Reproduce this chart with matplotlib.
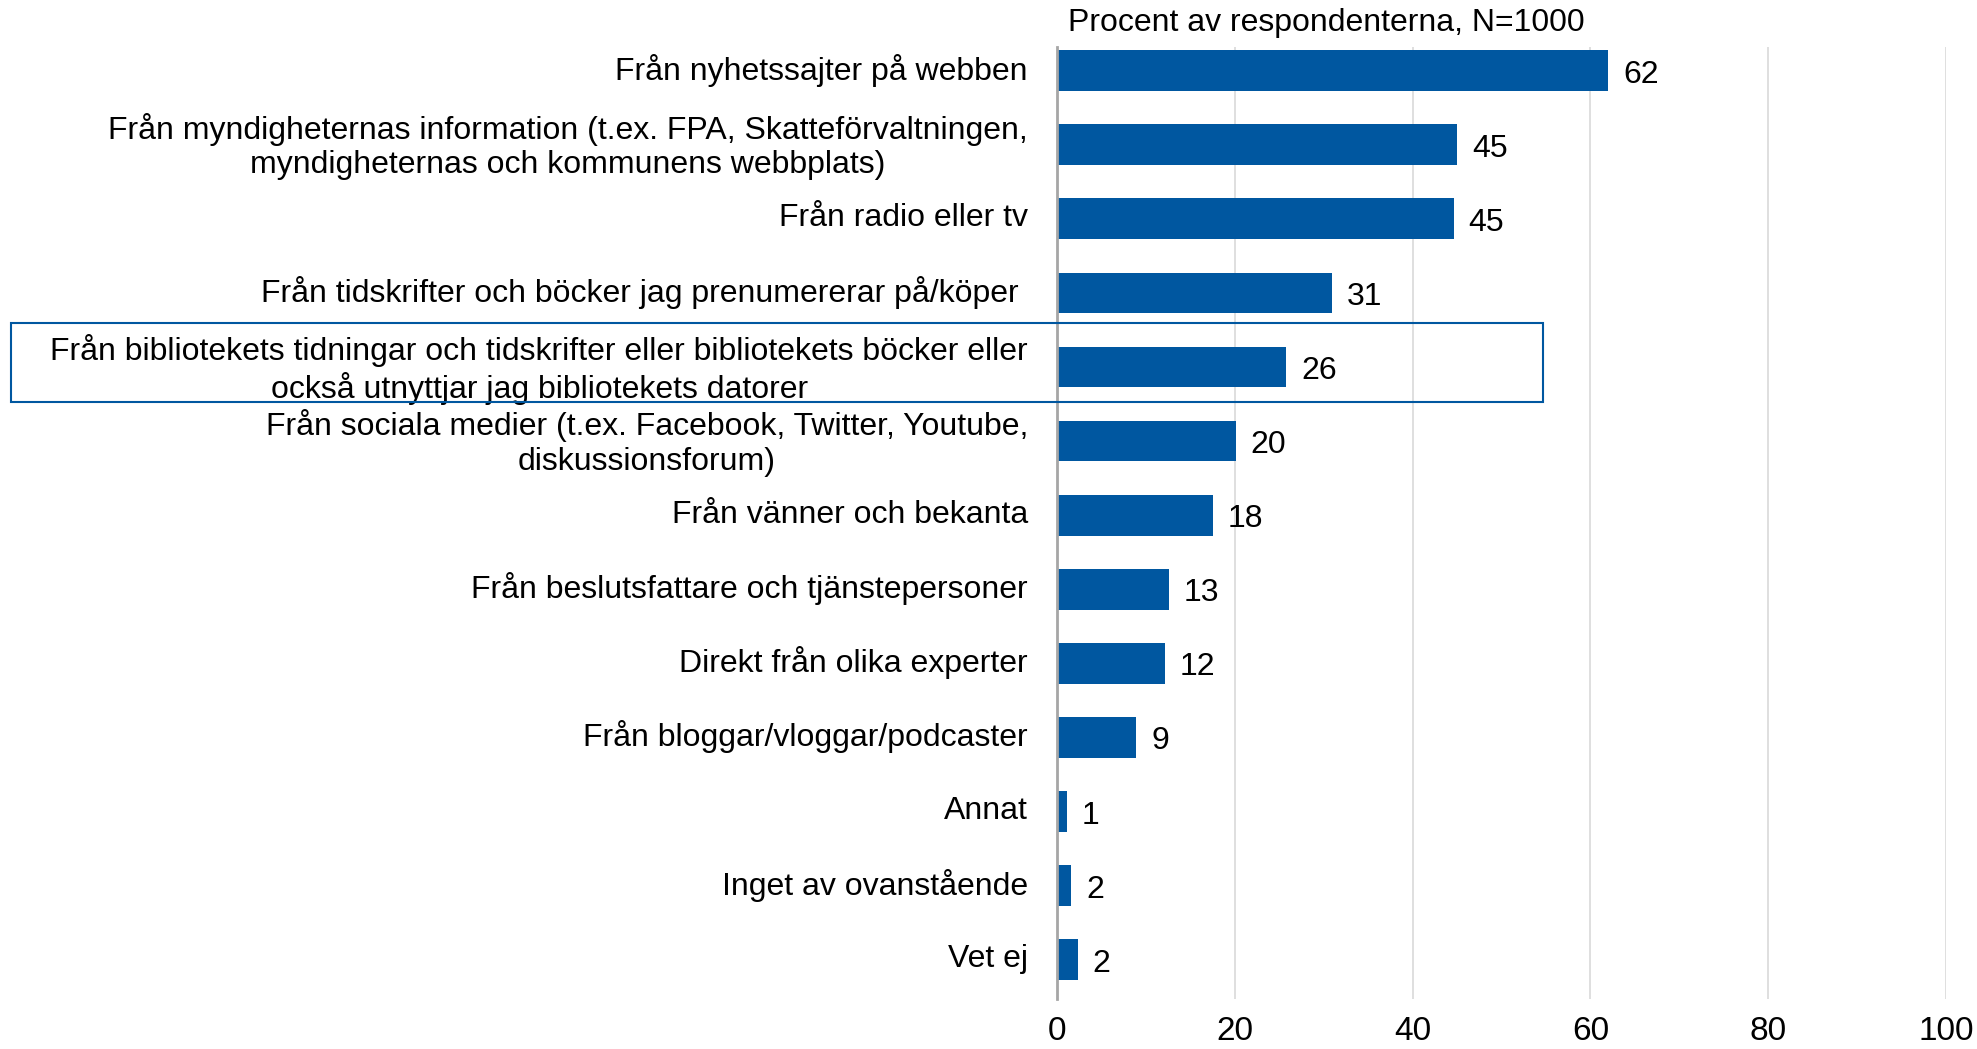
import matplotlib
matplotlib.use("Agg")
import matplotlib.pyplot as plt
from matplotlib.patches import Rectangle
from matplotlib.transforms import ScaledTranslation

plt.rcParams['font.family'] = ['Liberation Sans', 'DejaVu Sans']

categories = [
    "Från nyhetssajter på webben",
    "Från myndigheternas information (t.ex. FPA, Skatteförvaltningen,\nmyndigheternas och kommunens webbplats)",
    "Från radio eller tv",
    "Från tidskrifter och böcker jag prenumererar på/köper ",
    "Från bibliotekets tidningar och tidskrifter eller bibliotekets böcker eller\nockså utnyttjar jag bibliotekets datorer",
    "Från sociala medier (t.ex. Facebook, Twitter, Youtube,\ndiskussionsforum)",
    "Från vänner och bekanta",
    "Från beslutsfattare och tjänstepersoner",
    "Direkt från olika experter",
    "Från bloggar/vloggar/podcaster",
    "Annat",
    "Inget av ovanstående",
    "Vet ej",
]
values = [62.0, 45.0, 44.6, 30.9, 25.8, 20.1, 17.5, 12.6, 12.1, 8.9, 1.1, 1.6, 2.3]
value_labels = ["62", "45", "45", "31", "26", "20", "18", "13", "12", "9", "1", "2", "2"]

blue = "#0057A0"

fig = plt.figure(figsize=(19.77, 10.49), dpi=100)
ax = fig.add_axes([0.5347, 0.0477, 0.9843 - 0.5347, 0.9552 - 0.0477])

y = list(range(len(categories)))
ax.barh(y, values, height=0.55, color=blue, zorder=3)

# value labels: a bit right of the bar end, nudged down to sit like the original
shift = ScaledTranslation(15 / 100, -4 / 100, fig.dpi_scale_trans)
for yi, v, lab in zip(y, values, value_labels):
    ax.text(v, yi, lab, fontsize=23, ha='left', va='center',
            transform=ax.transData + shift)

ax.set_xlim(0, 100)
ax.set_ylim(12.53, -0.32)
ax.set_xticks([0, 20, 40, 60, 80, 100])
ax.set_yticks(y)
ax.set_yticklabels(categories, fontsize=23, multialignment='center')
ax.tick_params(axis='y', length=0, pad=21)
ax.tick_params(axis='x', length=0, pad=12, labelsize=24)

up = ScaledTranslation(0, 4 / 100, fig.dpi_scale_trans)
for lab in ax.get_yticklabels():
    lab.set_transform(lab.get_transform() + up)

ax.grid(axis='x', color='#d9d9d9', linewidth=1.2, zorder=0)
for s in ['top', 'right', 'bottom']:
    ax.spines[s].set_visible(False)
ax.spines['left'].set_color('#a6a6a6')
ax.spines['left'].set_linewidth(2)
ax.spines['left'].set_zorder(4)

fig.text(1068 / 1977, 1 - 23 / 1049, "Procent av respondenterna, N=1000",
         fontsize=23, ha='left', va='center')

fig.patches.append(Rectangle((11 / 1977, 1 - 402 / 1049), (1543 - 11) / 1977, 79 / 1049,
                             transform=fig.transFigure, fill=False,
                             edgecolor=blue, linewidth=1.5))

fig.savefig("out.png", dpi=100)
